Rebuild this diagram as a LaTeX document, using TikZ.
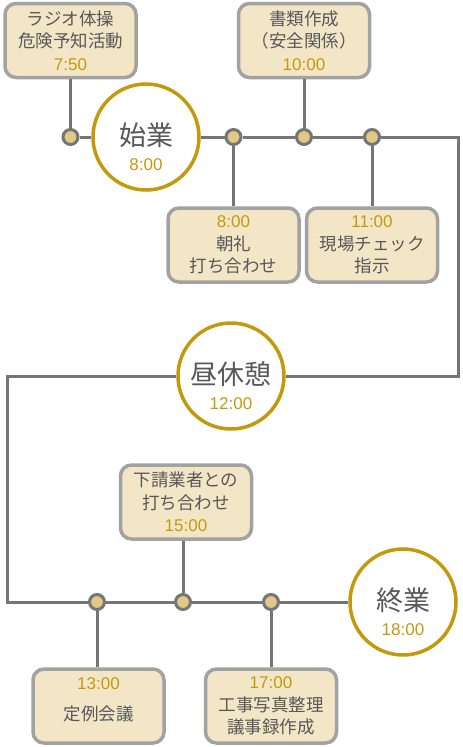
\documentclass[tikz,border=0pt]{standalone}
\usepackage{fontspec}
\setmainfont{Noto Sans CJK JP}
\newfontfamily\suji{Liberation Sans}
\definecolor{linegray}{HTML}{757575}
\definecolor{boxgray}{HTML}{A2A2A2}
\definecolor{boxfill}{HTML}{F3E6C7}
\definecolor{dotfill}{HTML}{E2C886}
\definecolor{gold}{HTML}{C39A0E}
\definecolor{textgray}{HTML}{585858}
\newcommand{\jikan}[1]{{\suji\fontsize{17}{22.5}\selectfont\color{gold}#1}}

\begin{document}
\begin{tikzpicture}[x=1pt, y=-1pt,
    taskbox/.style={draw=boxgray, line width=3.5pt, fill=boxfill, rounded corners=11pt,
        minimum width=131pt, minimum height=74pt, inner sep=0pt, align=center,
        text=textgray, font=\fontsize{17.5}{22.5}\selectfont},
    milestone/.style={circle, draw=gold, line width=3.5pt, fill=white, minimum size=106pt,
        inner sep=0pt, align=center, text=textgray, font=\fontsize{16}{25}\selectfont},
    joint/.style={circle, draw=linegray, line width=3pt, fill=dotfill, minimum size=15pt, inner sep=0pt},
    link/.style={draw=linegray, line width=3pt}]
    \useasboundingbox (0,0) rectangle (463,747);

    % 上段的节点
    \node[milestone] (shigyo) at (146,137) {\rule{0pt}{42pt}{\fontsize{27}{30}\selectfont 始業}\\\jikan{8:00}};
    \node[joint] (j1) at (70.5,137) {};
    \node[joint] (j2) at (233.5,137) {};
    \node[joint] (j3) at (304,137) {};
    \node[joint] (j4) at (372,137) {};

    % 上段的任务框
    \node[taskbox] (radio) at (70.5,40.5) {ラジオ体操\\危険予知活動\\\jikan{7:50}};
    \node[taskbox] (shorui) at (304,40.5) {書類作成\\（安全関係）\\\jikan{10:00}};
    \node[taskbox] (chorei) at (233.5,245) {\jikan{8:00}\\朝礼\\打ち合わせ};
    \node[taskbox] (genba) at (372,245) {\jikan{11:00}\\現場チェック\\指示};

    % 中间的午休
    \node[milestone] (kyukei) at (231,376) {\rule{0pt}{42pt}{\fontsize{27}{30}\selectfont 昼休憩}\\\jikan{12:00}};
    \coordinate (kado1) at (458,137);
    \coordinate (kado2) at (7,376);

    % 下段的节点
    \node[milestone] (shugyo) at (403,602) {\rule{0pt}{42pt}{\fontsize{27}{30}\selectfont 終業}\\\jikan{18:00}};
    \node[joint] (j5) at (97,602) {};
    \node[joint] (j6) at (183,602) {};
    \node[joint] (j7) at (271,602) {};

    % 下段的任务框
    \node[taskbox] (shitauke) at (186,502) {下請業者との\\打ち合わせ\\\jikan{15:00}};
    \node[taskbox] (teirei) at (98.5,706) {\jikan{13:00}\\[9pt]定例会議\rule[-14pt]{0pt}{0pt}};
    \node[taskbox] (shashin) at (271,706) {\jikan{17:00}\\工事写真整理\\議事録作成};

    % 绘制时间轴
    \draw[link] (j1) -- (shigyo);
    \draw[link] (shigyo) -- (j2) -- (j3) -- (j4) -- (kado1) |- (kyukei);
    \draw[link] (kyukei) -- (kado2) |- (j5);
    \draw[link] (j5) -- (j6) -- (j7) -- (shugyo);

    % 任务框与节点相连
    \draw[link] (j1 |- radio.south) -- (j1);
    \draw[link] (j3 |- shorui.south) -- (j3);
    \draw[link] (j2 |- chorei.north) -- (j2);
    \draw[link] (j4 |- genba.north) -- (j4);
    \draw[link] (j6 |- shitauke.south) -- (j6);
    \draw[link] (j5 |- teirei.north) -- (j5);
    \draw[link] (j7 |- shashin.north) -- (j7);
\end{tikzpicture}
\end{document}
